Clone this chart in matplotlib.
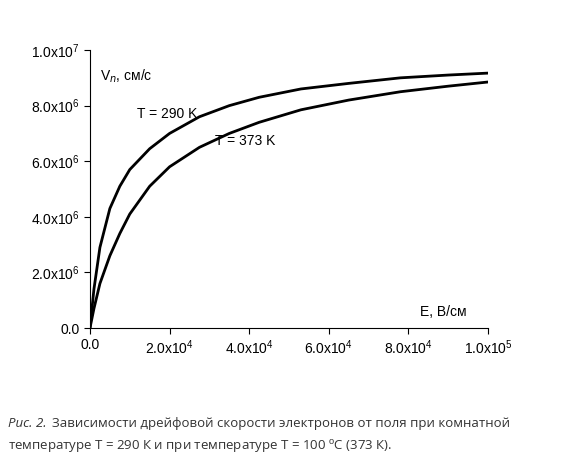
import matplotlib.pyplot as plt

# values
E = [0, 1e3, 2.5e3, 5e3, 7.5e3, 1e4, 1.5e4, 2e4, 2.75e4, 3.5e4, 4.25e4, 5.3e4, 6.5e4, 7.8e4, 9e4, 1e5]
v_290 = [0, 1.4e6, 2.9e6, 4.3e6, 5.1e6, 5.7e6, 6.45e6, 7.0e6, 7.6e6, 8.0e6, 8.3e6, 8.6e6, 8.8e6, 9.0e6, 9.1e6, 9.17e6]
v_373 = [0, 0.7e6, 1.6e6, 2.6e6, 3.4e6, 4.1e6, 5.1e6, 5.8e6, 6.5e6, 7.0e6, 7.4e6, 7.85e6, 8.2e6, 8.5e6, 8.7e6, 8.85e6]

xticks = [0, 2e4, 4e4, 6e4, 8e4, 1e5]
xlabels = ['0.0', r'2.0x10$^4$', r'4.0x10$^4$', r'6.0x10$^4$', r'8.0x10$^4$', r'1.0x10$^5$']
yticks = [0, 2e6, 4e6, 6e6, 8e6, 1e7]
ylabels = ['0.0', r'2.0x10$^6$', r'4.0x10$^6$', r'6.0x10$^6$', r'8.0x10$^6$', r'1.0x10$^7$']

plt.rcParams['font.family'] = ['Liberation Sans', 'DejaVu Sans']
plt.rcParams['mathtext.fontset'] = 'custom'
plt.rcParams['mathtext.rm'] = 'Liberation Sans'

fig = plt.figure(figsize=(5.88, 4.72), dpi=100)
ax = fig.add_axes([0.153, 0.305, 0.677, 0.589])
ax.plot(E, v_290, color='black', lw=2)
ax.plot(E, v_373, color='black', lw=2)
ax.set_xlim(0, 1e5)
ax.set_ylim(0, 1e7)
ax.set_xticks(xticks)
ax.set_xticklabels(xlabels, fontsize=10)
ax.set_yticks(yticks)
ax.set_yticklabels(ylabels, fontsize=10)
ax.spines['top'].set_visible(False)
ax.spines['right'].set_visible(False)
ax.tick_params(direction='out', length=4)

ax.text(2.5e3, 8.9e6, r'V$_n$, см/с', fontsize=10)
ax.text(8.3e4, 0.45e6, 'E, В/см', fontsize=10)
ax.text(1.18e4, 7.55e6, 'T = 290 K', fontsize=10)
ax.text(3.15e4, 6.6e6, 'T = 373 K', fontsize=10)

cap_font = ['Open Sans', 'DejaVu Sans']
fig.text(0.0135, 0.095, 'Рис. 2.', fontsize=9.5, style='italic', family=cap_font, color='#333333')
fig.text(0.088, 0.095, 'Зависимости дрейфовой скорости электронов от поля при комнатной',
         fontsize=9.5, family=cap_font, color='#333333')
fig.text(0.0135, 0.047, r'температуре Т = 290 К и при температуре Т = 100 $^{\rm o}$С (373 К).',
         fontsize=9.5, family=cap_font, color='#333333')

fig.savefig('out.png', dpi=100)
